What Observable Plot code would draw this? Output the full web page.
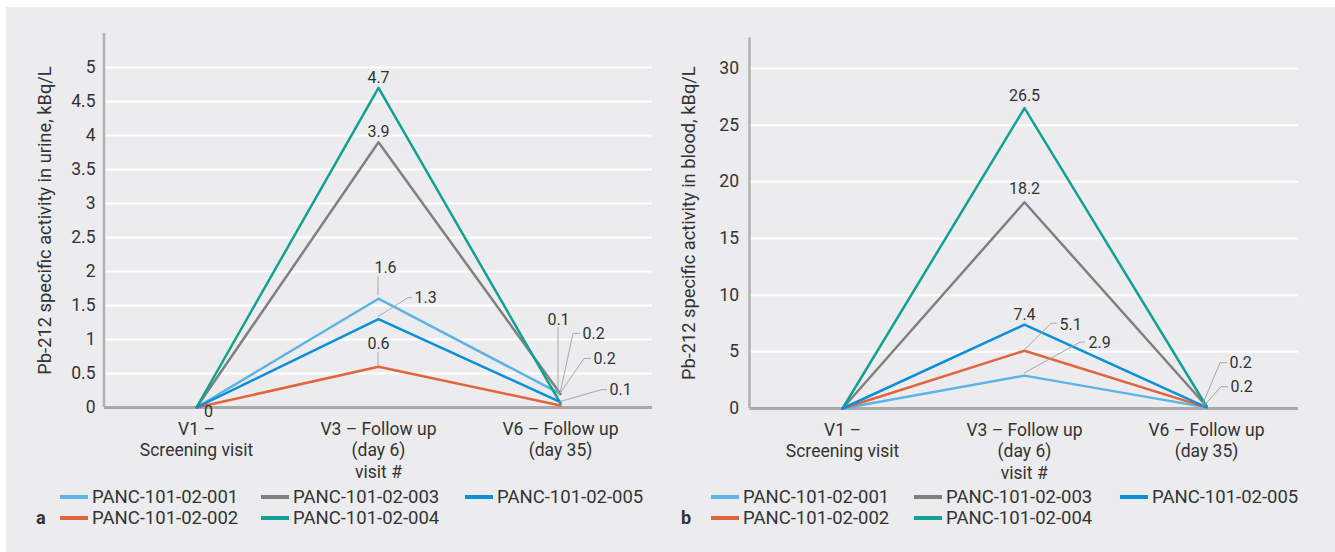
<!DOCTYPE html>
<html>
<head>
<meta charset="utf-8">
<script src="https://cdn.jsdelivr.net/npm/d3@7"></script>
<script src="https://cdn.jsdelivr.net/npm/@observablehq/plot@0.6"></script>
<style>
  html, body { margin: 0; padding: 0; background: #ffffff; }
  #page { position: relative; width: 1335px; height: 552px; overflow: hidden; font-family: Roboto, "Liberation Sans", sans-serif; color: #333; }
  #panel { position: absolute; left: 6px; top: 7px; right: 0; bottom: 0; background: #ececee; }
  .item { position: absolute; display: flex; align-items: center; height: 22px; font-size: 18.5px; white-space: nowrap; color: #333; }
  .sw { display: inline-block; width: 28px; height: 4px; margin-right: 4px; }
  .letter { position: absolute; font-weight: bold; font-size: 18px; height: 22px; line-height: 22px; color: #333; }
</style>
</head>
<body>
<div id="page"><div id="panel"></div></div>
<script>
// ---------- data ----------
const visits = ["V1 –\nScreening visit", "V3 – Follow up\n(day 6)", "V6 – Follow up\n(day 35)"];
const patients = ["PANC-101-02-001", "PANC-101-02-002", "PANC-101-02-003", "PANC-101-02-004", "PANC-101-02-005"];
const colors = ["#5cb4e6", "#e0643c", "#808080", "#12a192", "#0b8fd8"];

const urine001 = [0, 1.6, 0.2];
const urine002 = [0, 0.6, 0.03];
const urine003 = [0, 3.9, 0.2];
const urine004 = [0, 4.7, 0.06];
const urine005 = [0, 1.3, 0.08];

const blood001 = [0, 2.9, 0.1];
const blood002 = [0, 5.1, 0.1];
const blood003 = [0, 18.2, 0.2];
const blood004 = [0, 26.5, 0.2];
const blood005 = [0, 7.4, 0.1];

const urineTicks = [0, 0.5, 1, 1.5, 2, 2.5, 3, 3.5, 4, 4.5, 5];
const bloodTicks = [0, 5, 10, 15, 20, 25, 30];

const urineTitle = "Pb-212 specific activity in urine, kBq/L";
const bloodTitle = "Pb-212 specific activity in blood, kBq/L";
const xTitle = "visit #";

// ---------- label placement (series index, visit index, pixel offsets) ----------
const urineLabels = [
  {s: 3, v: 1, dx: 0, dy: -10},
  {s: 2, v: 1, dx: 0, dy: -10},
  {s: 0, v: 1, dx: 7, dy: -31, leader: [[0, -3], [0, -22]]},
  {s: 4, v: 1, dx: 36, dy: -21, anchor: "start", leader: [[0, -2], [30, -21], [34, -21]]},
  {s: 1, v: 1, dx: 0, dy: -23, leader: [[0, -1], [0, -14]]},
  {s: 1, v: 0, dx: 12, dy: 4},
  {s: 3, v: 2, dx: -2, dy: -84, leader: [[-2, -6], [-2, -76]]},
  {s: 0, v: 2, dx: 22, dy: -60, anchor: "start", leader: [[0, 0], [13, -60], [20, -60]]},
  {s: 2, v: 2, dx: 33, dy: -35, anchor: "start", leader: [[0, 0], [24, -35], [31, -35]]},
  {s: 4, v: 2, dx: 49, dy: -12, anchor: "start", leader: [[0, 0], [42, -12], [47, -12]]}
];
const bloodLabels = [
  {s: 3, v: 1, dx: 0, dy: -12},
  {s: 2, v: 1, dx: 0, dy: -13},
  {s: 4, v: 1, dx: 0, dy: -10},
  {s: 1, v: 1, dx: 35, dy: -26, anchor: "start", leader: [[0, 0], [27, -27], [33, -27]]},
  {s: 0, v: 1, dx: 64, dy: -33, anchor: "start", leader: [[0, -2], [56, -33], [61, -33]]},
  {s: 3, v: 2, dx: 23, dy: -43, anchor: "start", leader: [[-4, 0], [14, -43], [21, -43]]},
  {s: 2, v: 2, dx: 24, dy: -19, anchor: "start", leader: [[-2, 0], [15, -19], [22, -19]]}
];

const fmt = v => v === 0 ? "0" : v.toFixed(1);
const FONT = "Roboto, 'Liberation Sans', sans-serif";

function makeChart(o) {
  const series = o.series;
  const data = patients.flatMap((p, i) => visits.map((v, j) => ({patient: p, visit: v, value: series[i][j]})));
  const labelMarks = o.labels.map(L => Plot.text([{visit: visits[L.v], value: series[L.s][L.v]}], {
    x: "visit", y: "value", text: d => fmt(d.value), dx: L.dx, dy: L.dy,
    textAnchor: L.anchor || "middle", fontSize: 16, fill: "#333"
  }));
  const leaders = (index, scales) => {
    const g = d3.create("svg:g").attr("fill", "none").attr("stroke", "#a8a8a8").attr("stroke-width", 1);
    for (const L of o.labels) {
      if (!L.leader) continue;
      const x0 = scales.x(visits[L.v]), y0 = scales.y(series[L.s][L.v]);
      g.append("path").attr("d", d3.line()(L.leader.map(([dx, dy]) => [x0 + dx, y0 + dy])));
    }
    return g.node();
  };
  const yAxisLine = (index, scales, values, dims) => {
    const x = dims.marginLeft;
    return d3.create("svg:line").attr("x1", x).attr("x2", x)
      .attr("y1", dims.marginTop).attr("y2", dims.height - dims.marginBottom)
      .attr("stroke", "#b0b0b0").attr("stroke-width", 2.5).node();
  };
  const svg = Plot.plot({
    width: o.width, height: 480,
    marginLeft: o.marginLeft, marginRight: o.marginRight, marginTop: o.marginTop, marginBottom: o.marginBottom,
    style: {background: "transparent", fontFamily: FONT, fontSize: "17.5px", color: "#333", overflow: "visible"},
    x: {type: "point", domain: visits, padding: 0.5},
    y: {domain: o.domain},
    color: {domain: patients, range: colors},
    marks: [
      Plot.ruleY(o.ticks.filter(d => d > 0), {stroke: "#ffffff", strokeWidth: 2}),
      yAxisLine,
      Plot.ruleY([0], {stroke: "#a9a9a9", strokeWidth: 3}),
      Plot.axisX({tickSize: 0, tickPadding: 13, lineHeight: 1.2, label: null}),
      Plot.axisX([], {tickSize: 0, label: xTitle, labelAnchor: "center", labelOffset: 70, labelArrow: "none"}),
      Plot.axisY(o.ticks, {tickSize: 0, tickPadding: o.tickPad, tickFormat: d => String(d), label: null}),
      Plot.axisY([], {tickSize: 0, label: o.title, labelAnchor: "center", labelOffset: o.labelOffset, labelArrow: "none", fontSize: 18.3}),
      Plot.line(data, {x: "visit", y: "value", z: "patient", stroke: "patient", strokeWidth: 2.5}),
      leaders,
      ...labelMarks
    ]
  });
  svg.style.position = "absolute";
  svg.style.left = o.left + "px";
  svg.style.top = "0px";
  return svg;
}

const page = document.getElementById("page");
page.appendChild(makeChart({
  series: [urine001, urine002, urine003, urine004, urine005], ticks: urineTicks, domain: [0, 5.5],
  title: urineTitle, labels: urineLabels, left: 0, width: 668,
  marginLeft: 104, marginRight: 16, marginTop: 33, marginBottom: 73, tickPad: 9, labelOffset: 67
}));
page.appendChild(makeChart({
  series: [blood001, blood002, blood003, blood004, blood005], ticks: bloodTicks, domain: [0, 32.7],
  title: bloodTitle, labels: bloodLabels, left: 668, width: 667,
  marginLeft: 81.5, marginRight: 37, marginTop: 37.4, marginBottom: 72, tickPad: 11, labelOffset: 68
}));

function addLegend(letter, letterX, colXs, rowYs) {
  patients.forEach((p, i) => {
    const col = Math.floor(i / 2), row = i % 2;
    const it = document.createElement("div");
    it.className = "item";
    it.style.left = colXs[col] + "px";
    it.style.top = (rowYs[row] - 11) + "px";
    const sw = document.createElement("span");
    sw.className = "sw";
    sw.style.background = colors[i];
    it.appendChild(sw);
    it.appendChild(document.createTextNode(p));
    page.appendChild(it);
  });
  const l = document.createElement("div");
  l.className = "letter";
  l.textContent = letter;
  l.style.left = letterX + "px";
  l.style.top = (rowYs[1] - 11) + "px";
  page.appendChild(l);
}
addLegend("a", 36, [60, 261, 465], [497, 518]);
addLegend("b", 681, [711, 914, 1120], [497, 518]);
</script>
</body>
</html>
